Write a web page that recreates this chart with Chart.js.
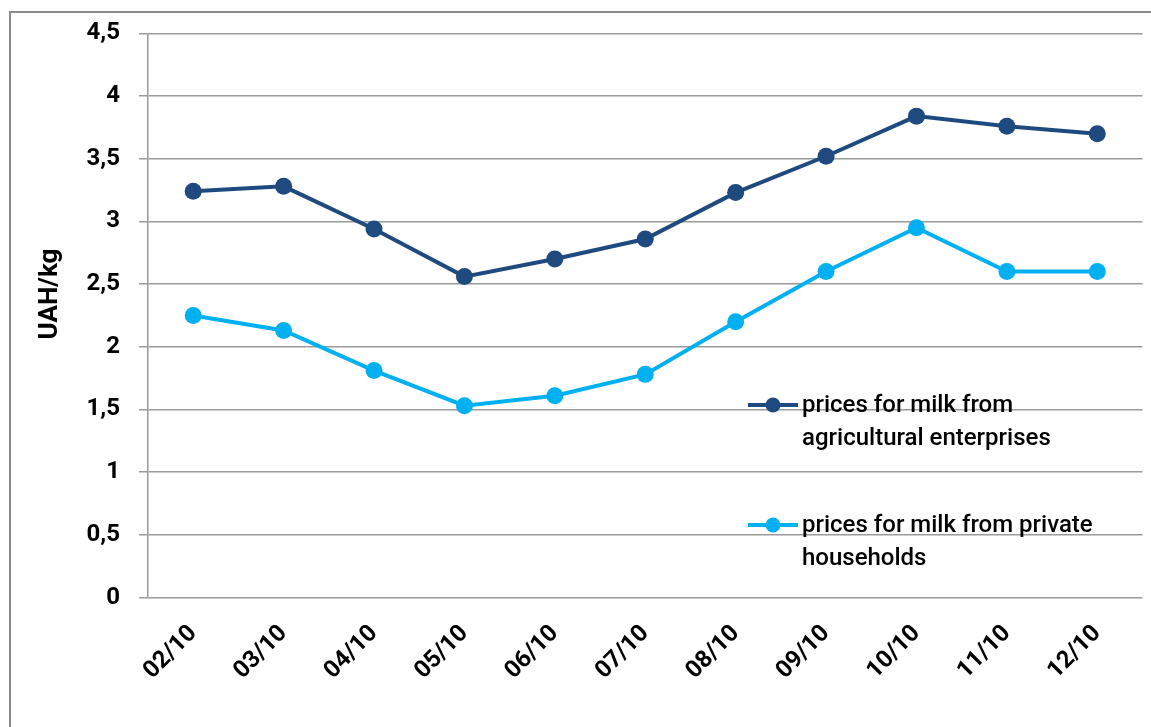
<!DOCTYPE html>
<html><head><meta charset="utf-8">
<script src="https://cdn.jsdelivr.net/npm/chart.js@4/dist/chart.umd.min.js"></script>
<style>
html,body{margin:0;padding:0;background:#fff;}
#wrap{position:relative;width:1151px;height:727px;overflow:hidden;}
#frame{position:absolute;left:9px;top:11px;width:1160px;height:740px;border-left:2px solid #8c8c8c;border-top:2px solid #8c8c8c;box-sizing:border-box;pointer-events:none;}
canvas{position:absolute;left:0;top:0;}
</style></head><body>
<div id="wrap"><canvas id="c" width="1151" height="727"></canvas><div id="frame"></div></div>
<script>
const categories = ['02/10','03/10','04/10','05/10','06/10','07/10','08/10','09/10','10/10','11/10','12/10'];
const enterprises = [3.24, 3.28, 2.94, 2.56, 2.70, 2.86, 3.23, 3.52, 3.84, 3.76, 3.70];
const households = [2.25, 2.13, 1.81, 1.53, 1.61, 1.78, 2.20, 2.60, 2.95, 2.60, 2.60];
const seriesNames = [['prices for milk from','agricultural enterprises'],['prices for milk from private','households']];
const yTickLabels = {0:'0',0.5:'0,5',1:'1',1.5:'1,5',2:'2',2.5:'2,5',3:'3',3.5:'3,5',4:'4',4.5:'4,5'};
const yTitle = 'UAH/kg';
const colors = ['#1f4a80', '#00b0f0'];
const FONT = 'Roboto, "Open Sans", sans-serif';

const extras = {
  id: 'extras',
  afterDraw(chart) {
    const ctx = chart.ctx;
    ctx.save();
    ctx.translate(50, 294);
    ctx.rotate(-Math.PI/2);
    ctx.fillStyle = '#000';
    ctx.font = 'bold 26px ' + FONT;
    ctx.textAlign = 'center';
    ctx.textBaseline = 'middle';
    ctx.fillText(yTitle, 0, 0);
    ctx.restore();
    const ys = [405, 525];
    ctx.save();
    seriesNames.forEach((lines, i) => {
      const y = ys[i];
      ctx.strokeStyle = colors[i];
      ctx.lineWidth = 4;
      ctx.beginPath(); ctx.moveTo(748, y); ctx.lineTo(798, y); ctx.stroke();
      ctx.fillStyle = colors[i];
      ctx.beginPath(); ctx.arc(773, y, 7.5, 0, Math.PI*2); ctx.fill();
      ctx.fillStyle = '#000';
      ctx.font = '500 24px ' + FONT;
      ctx.textAlign = 'left';
      ctx.textBaseline = 'middle';
      lines.forEach((t, k) => ctx.fillText(t, 802, y + 1 + k*33));
    });
    ctx.restore();
  }
};

new Chart(document.getElementById('c'), {
  type: 'line',
  data: {
    labels: categories,
    datasets: [
      {label: seriesNames[0].join(' '), data: enterprises, borderColor: colors[0], backgroundColor: colors[0], borderWidth: 4, pointRadius: 8.5, pointHoverRadius: 8.5, pointBorderWidth: 0, tension: 0},
      {label: seriesNames[1].join(' '), data: households, borderColor: colors[1], backgroundColor: colors[1], borderWidth: 4, pointRadius: 8.5, pointHoverRadius: 8.5, pointBorderWidth: 0, tension: 0}
    ]
  },
  options: {
    responsive: false,
    animation: false,
    devicePixelRatio: 1,
    layout: {padding: {left: 0, right: 4, top: 30, bottom: 0}},
    plugins: {legend: {display: false}, tooltip: {enabled: false}},
    scales: {
      x: {
        offset: true,
        grid: {display: false},
        border: {display: false},
        ticks: {maxRotation: 45, minRotation: 45, padding: 14, color: '#000', font: {family: FONT, size: 24, weight: 'bold'}},
        afterFit(s) { s.height = 129.5; }
      },
      y: {
        min: 0, max: 4.5,
        grid: {color: '#9a9a9a', lineWidth: 1.5, tickLength: 9, drawTicks: true},
        border: {display: true, color: '#9a9a9a', width: 1.5},
        ticks: {stepSize: 0.5, padding: 19, color: '#000', font: {family: FONT, size: 24, weight: 'bold'},
          callback: (v) => yTickLabels[v] !== undefined ? yTickLabels[v] : ''},
        afterFit(s) { s.width = 148; }
      }
    }
  },
  plugins: [extras]
});
</script>
</body></html>
